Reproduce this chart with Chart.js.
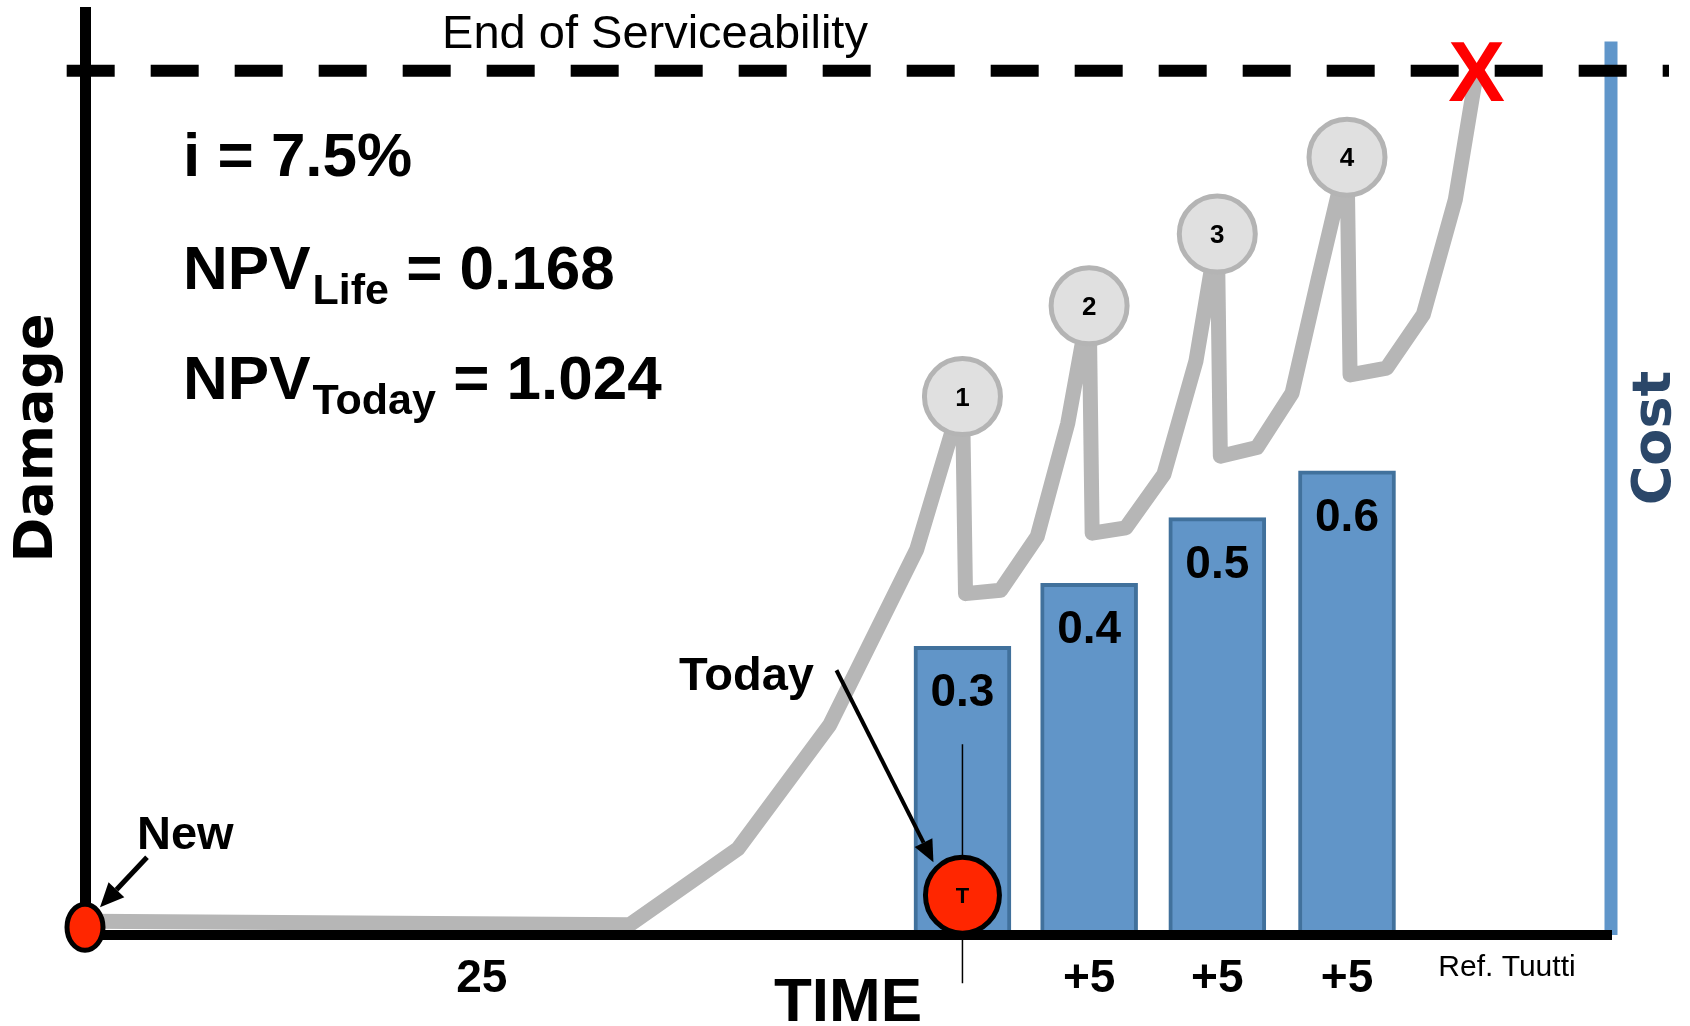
<!DOCTYPE html>
<html>
<head>
<meta charset="utf-8">
<script src="https://cdn.jsdelivr.net/npm/chart.js@4.4.0/dist/chart.umd.min.js"></script>
<style>
  html, body { margin: 0; padding: 0; background: #fff; }
</style>
</head>
<body>
<canvas id="chart" width="1690" height="1026"></canvas>
<script>
// time runs 0..100 across the plot, damage 100 = end of serviceability
const damageX = [0.3, 35.7, 42.8, 48.8, 54.5, 57.5, 57.7, 60.0, 62.4, 64.4, 65.8, 66.0, 68.2, 70.7, 72.8, 74.2, 74.4, 76.8, 79.1, 80.8, 82.7, 82.9, 85.3, 87.7, 89.8, 91.2];
const damageY = [1.6, 1.2, 10.0, 24.3, 44.6, 62.3, 39.5, 39.9, 46.1, 59.2, 72.8, 46.5, 47.1, 53.3, 66.4, 81.1, 55.4, 56.4, 62.7, 75.8, 90.0, 64.8, 65.6, 71.8, 85.1, 100];

const interventionX = [57.5, 65.8, 74.2, 82.7];
const interventionY = [62.3, 72.8, 81.1, 90.0];
const interventionLabels = ['1', '2', '3', '4'];

const costHeights = [33.4, 40.7, 48.3, 53.7];
const costLabels = ['0.3', '0.4', '0.5', '0.6'];

const tickValues = [26, 65.8, 74.2, 82.7];
const tickLabels = ['25', '+5', '+5', '+5'];

const limitY = 100;
const limitSpan = [-1.2, 103.8];
const costAxisX = 100;
const costAxisTop = 103.4;
const newPoint = { x: 0, y: 0.9 };
const todayPoint = { x: 57.5, y: 4.6 };

const SANS = "'Liberation Sans', Arial, sans-serif";
const WIDE = "'DejaVu Sans', Verdana, sans-serif";

function arrow(ctx, x1, y1, x2, y2, w, head) {
    const a = Math.atan2(y2 - y1, x2 - x1);
    const bx = x2 - head * Math.cos(a), by = y2 - head * Math.sin(a);
    const hw = head * 0.45;
    ctx.lineWidth = w;
    ctx.beginPath();
    ctx.moveTo(x1, y1);
    ctx.lineTo(bx, by);
    ctx.stroke();
    ctx.beginPath();
    ctx.moveTo(x2, y2);
    ctx.lineTo(bx + hw * Math.sin(a), by - hw * Math.cos(a));
    ctx.lineTo(bx - hw * Math.sin(a), by + hw * Math.cos(a));
    ctx.closePath();
    ctx.fill();
}

function vtext(ctx, s, x, y, font, color) {
    ctx.save();
    ctx.translate(x, y);
    ctx.rotate(-Math.PI / 2);
    ctx.font = font;
    ctx.fillStyle = color;
    ctx.textAlign = 'center';
    ctx.textBaseline = 'alphabetic';
    ctx.fillText(s, 0, 0);
    ctx.restore();
}

function npv(ctx, x, y, sub, rest) {
    ctx.textAlign = 'left';
    ctx.font = `bold 62px ${SANS}`;
    ctx.fillText('NPV', x, y);
    const w1 = ctx.measureText('NPV').width + 2;
    ctx.font = `bold 43px ${SANS}`;
    ctx.fillText(sub, x + w1, y + 15);
    const w2 = ctx.measureText(sub).width;
    ctx.font = `bold 62px ${SANS}`;
    ctx.fillText(rest, x + w1 + w2, y);
}

const annotate = {
    id: 'annotate',
    afterDraw(chart) {
        const { ctx } = chart;
        const xs = chart.scales.x, ys = chart.scales.y;
        const px = v => xs.getPixelForValue(v), py = v => ys.getPixelForValue(v);
        ctx.save();
        ctx.fillStyle = '#000';
        ctx.strokeStyle = '#000';

        // numbers in the repair circles
        ctx.textAlign = 'center';
        ctx.textBaseline = 'middle';
        ctx.font = `bold 26px ${SANS}`;
        chart.getDatasetMeta(0).data.forEach((pt, i) => ctx.fillText(interventionLabels[i], pt.x, pt.y + 2));

        // cost values inside the bars
        ctx.textBaseline = 'alphabetic';
        ctx.font = `bold 46px ${SANS}`;
        chart.getDatasetMeta(4).data.forEach((b, i) => ctx.fillText(costLabels[i], b.x, b.y + 60));

        // today marker
        const tx = px(todayPoint.x), ty = py(todayPoint.y);
        ctx.lineWidth = 1.5;
        ctx.beginPath();
        ctx.moveTo(tx, ty - 151);
        ctx.lineTo(tx, ty + 88);
        ctx.stroke();
        ctx.beginPath();
        ctx.ellipse(tx, ty, 37, 38, 0, 0, Math.PI * 2);
        ctx.fillStyle = '#FF2600';
        ctx.fill();
        ctx.lineWidth = 5;
        ctx.stroke();
        ctx.fillStyle = '#000';
        ctx.font = `bold 22px ${SANS}`;
        ctx.textBaseline = 'middle';
        ctx.fillText('T', tx, ty + 2);

        // new marker
        const nx = px(newPoint.x), ny = py(newPoint.y);
        ctx.beginPath();
        ctx.ellipse(nx, ny, 18, 23, 0, 0, Math.PI * 2);
        ctx.fillStyle = '#FF2600';
        ctx.fill();
        ctx.lineWidth = 5;
        ctx.stroke();

        // end of life cross
        const last = damageX.length - 1;
        ctx.fillStyle = '#FF0000';
        ctx.font = `bold 85px ${SANS}`;
        ctx.textBaseline = 'alphabetic';
        ctx.fillText('X', px(damageX[last]), py(damageY[last]) + 30);

        // arrows
        ctx.fillStyle = '#000';
        arrow(ctx, tx - 126, ty - 225, tx - 29, ty - 33, 4, 22);
        arrow(ctx, nx + 62, ny - 70, nx + 15, ny - 20, 5, 24);

        // texts
        ctx.textBaseline = 'alphabetic';
        ctx.textAlign = 'center';
        ctx.font = `47px ${SANS}`;
        ctx.fillText('End of Serviceability', 655, 48);
        ctx.font = `30px ${SANS}`;
        ctx.fillText('Ref. Tuutti', 1507, 976);

        ctx.textAlign = 'left';
        ctx.font = `bold 62px ${SANS}`;
        ctx.fillText('i = 7.5%', 183, 176);
        npv(ctx, 183, 289, 'Life', ' = 0.168');
        npv(ctx, 183, 399, 'Today', ' = 1.024');

        ctx.font = `bold 47px ${SANS}`;
        ctx.fillText('New', 137, 849);
        ctx.fillText('Today', 679, 690);

        vtext(ctx, 'Damage', 52, 438, `bold 54px ${WIDE}`, '#000');
        vtext(ctx, 'Cost', 1670, 438, `bold 54px ${WIDE}`, '#2B4769');
        ctx.restore();
    }
};

new Chart(document.getElementById('chart'), {
    type: 'bar',
    data: {
        datasets: [
            {
                type: 'line',
                label: 'Repairs',
                data: interventionX.map((v, i) => ({ x: v, y: interventionY[i] })),
                showLine: false,
                pointRadius: 38,
                pointBackgroundColor: '#E0E0E0',
                pointBorderColor: '#B4B4B4',
                pointBorderWidth: 5,
                order: 1,
                clip: false
            },
            {
                type: 'line',
                label: 'Damage',
                data: damageX.map((v, i) => ({ x: v, y: damageY[i] })),
                borderColor: '#B6B6B6',
                borderWidth: 15,
                borderJoinStyle: 'round',
                pointRadius: 0,
                tension: 0,
                order: 2,
                clip: false
            },
            {
                type: 'line',
                label: 'End of Serviceability',
                data: limitSpan.map(v => ({ x: v, y: limitY })),
                borderColor: '#000',
                borderWidth: 12,
                borderDash: [48, 36],
                pointRadius: 0,
                order: 3,
                clip: false
            },
            {
                type: 'line',
                label: 'Cost axis',
                data: [{ x: costAxisX, y: 0 }, { x: costAxisX, y: costAxisTop }],
                borderColor: '#6096CA',
                borderWidth: 13,
                pointRadius: 0,
                order: 4,
                clip: false
            },
            {
                type: 'bar',
                label: 'Cost',
                data: interventionX.map((v, i) => ({ x: v, y: costHeights[i] })),
                backgroundColor: '#6195C8',
                borderColor: '#41719C',
                borderWidth: 4,
                barThickness: 97,
                order: 5
            }
        ]
    },
    options: {
        responsive: false,
        animation: false,
        events: [],
        layout: { autoPadding: false, padding: { left: 85, right: 79, top: 12, bottom: 0 } },
        plugins: { legend: { display: false }, tooltip: { enabled: false } },
        scales: {
            x: {
                type: 'linear',
                min: 0,
                max: 100,
                offset: false,
                grid: { display: false, drawTicks: false, offset: false },
                border: { display: true, color: '#000', width: 10, z: 1 },
                afterBuildTicks: s => { s.ticks = tickValues.map(v => ({ value: v })); },
                afterFit: s => { s.height = 91; },
                ticks: {
                    autoSkip: false,
                    maxRotation: 0,
                    padding: 21,
                    color: '#000',
                    font: { family: SANS, size: 46, weight: 'bold', lineHeight: 1 },
                    callback: (v, i) => tickLabels[i]
                },
                title: {
                    display: true,
                    text: 'TIME',
                    color: '#000',
                    font: { family: SANS, size: 62, weight: 'bold', lineHeight: 1 },
                    padding: { top: 0, bottom: -9 }
                }
            },
            y: {
                min: 0,
                max: 106.8,
                grid: { display: false, drawTicks: false },
                ticks: { display: false },
                border: { display: true, color: '#000', width: 11, z: 1 },
                afterFit: s => { s.width = 0; }
            }
        }
    },
    plugins: [annotate]
});
</script>
</body>
</html>
